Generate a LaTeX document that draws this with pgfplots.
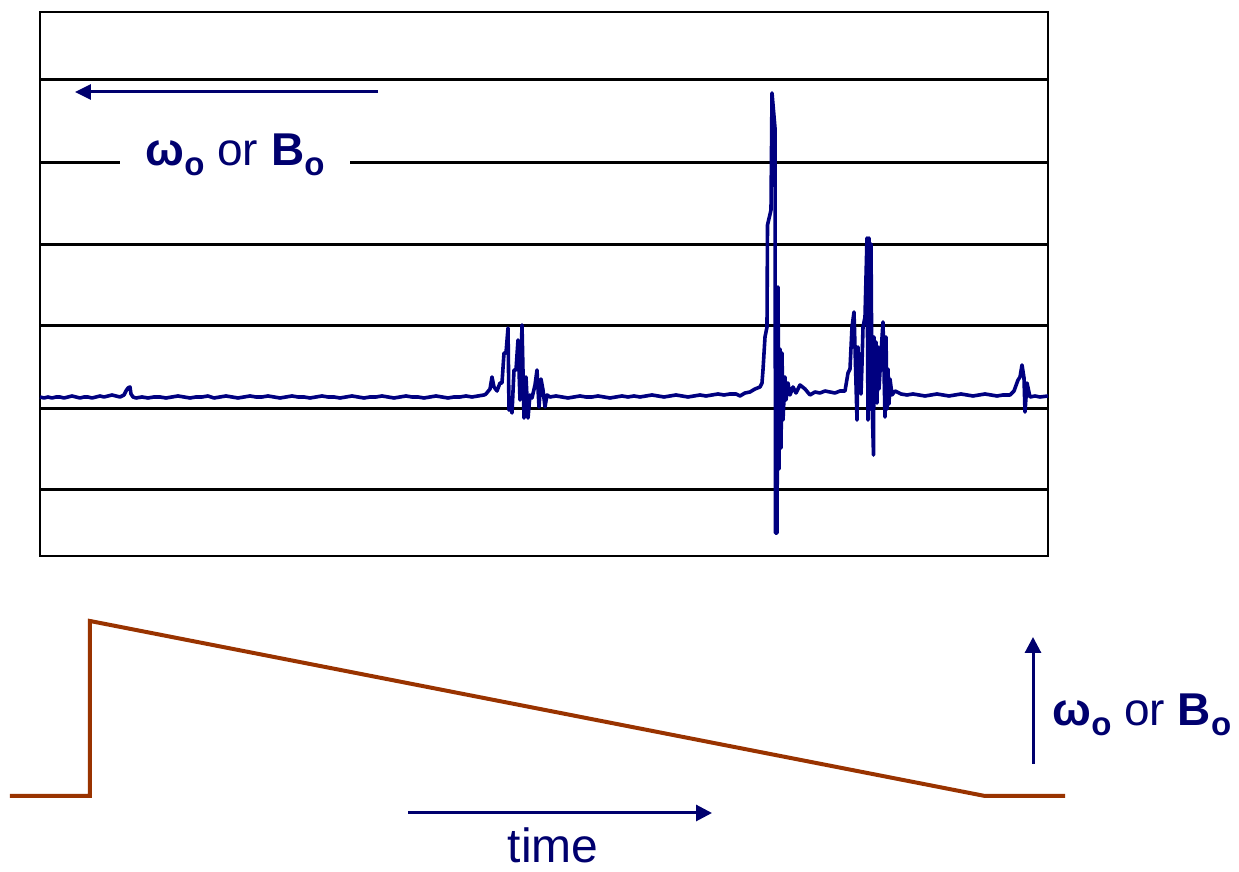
\documentclass[border=0pt]{standalone}
\usepackage{pgfplots}
\pgfplotsset{compat=1.18}
\usepackage{fontspec}
\setmainfont{Liberation Sans}
\usetikzlibrary{arrows.meta}
\definecolor{sig}{RGB}{0,0,128}
\definecolor{navytext}{RGB}{0,0,110}
\definecolor{ramp}{HTML}{993300}
\newcommand{\lbl}{{\bfseries ω}\raisebox{-5pt}{\fontsize{16.5}{18}\selectfont\bfseries o} or {\bfseries B}\raisebox{-5pt}{\fontsize{16.5}{18}\selectfont\bfseries o}}
\begin{document}
\begin{tikzpicture}
\useasboundingbox (0,0) rectangle (619.5pt,436pt);
% ---------- top panel ----------
\begin{axis}[
  at={(20pt,158pt)}, anchor=south west,
  scale only axis, width=504pt, height=272pt,
  xmin=0, xmax=1008, ymin=-147, ymax=397,
  xtick=\empty, ytick={-81,0,83,164,246,329}, yticklabels={},
  major tick length=0pt,
  ymajorgrids, grid style={black, line width=1.5pt},
  axis line style={line width=1pt},
  clip=false,
]
\addplot[sig, line width=1.8pt, line join=round, mark=none] coordinates {
(0,12)(4,11)(8,12)(12,11)(16,12)(20,12)(24,11)(28,12)(32,13)(36,12)(40,11)(44,12)(48,12)(52,11)(56,12)(60,13)(64,12)(68,13)(72,14)(76,13)(80,12)(84,14)(86,18)(88,21)(90,22)(91,15)(93,12)(96,11)
(102,12)(108,11)(114,12)(120,12)(126,11)(132,12)(138,13)(144,12)(150,11)(156,12)(162,12)(168,13)(174,11)(180,12)(186,13)(192,12)(198,11)(204,12)(210,13)(216,12)(222,12)(228,13)(234,12)(240,11)(246,12)(252,13)(258,12)(264,12)(270,11)(276,12)(282,13)(288,12)(294,12)(300,11)(306,12)(312,13)(318,12)(324,11)(330,12)(336,12)(342,13)(348,12)(354,11)(360,12)(366,13)(372,12)(378,12)(384,11)(390,12)(396,13)(402,12)(408,11)(414,12)(420,12)(426,13)(432,12)(438,13)(444,14)(446,15)
(450,20)(452,32)(454,22)(457,18)(460,26)(462,26)(464,56)(466,56)(468,81)(469,-1)(471,0)(472,-4)(474,39)(476,39)(478,69)(480,9)(482,84)(484,-9)(486,32)(488,-9)(490,14)(492,11)(495,24)(497,39)(499,2)(501,30)(503,19)(505,2)(507,14)
(510,12)(516,13)(522,12)(528,11)(534,12)(540,13)(546,12)(552,12)(558,13)(564,12)(570,11)(576,12)(582,13)(588,12)(594,13)(600,12)(606,13)(612,14)(618,13)(624,12)(630,13)(636,14)(642,13)(648,12)(654,13)(660,14)(666,13)(672,14)(678,15)(684,14)(690,15)(696,15)
(700,13)(705,16)(710,17)(715,20)(720,22)(722,26)(723,39)(725,72)(727,82)(727.5,184)(731,199)(732,316)(735,281)(735.5,-124)(737,-124)(738,122)(739,-60)(740,60)(741,-39)(742,56)(743,-11)(745,32)(746,9)(748,26)(750,14)(753,22)(756,16)(760,24)(765,20)(770,14)
(775,17)(780,16)(785,18)(790,17)(795,16)(800,18)
(805,18)(808,36)(810,40)(812,82)(814,97)(815,62)(817,-11)(818,62)(819,22)(820,55)(821,15)(822,45)(823,82)(825,92)(827,171)(828,-11)(829,171)(830,0)(831,165)(832,10)(833.5,-46)(834,72)(835,10)(836,67)(837,6)(838,62)(839,20)(841,55)(843,87)(845,-8)(846,72)(847,0)(848,40)(849,5)(850,30)(852,14)(855,18)
(861,15)(867,14)(873,15)(879,14)(885,13)(891,14)(897,15)(903,14)(909,13)(915,14)(921,15)(927,14)(933,13)(939,14)(945,15)(951,14)(957,13)(963,14)(970,14)
(974,18)(978,29)(980,32)(982,44)(984,31)(985,-3)(987,26)(990,12)(995,13)(1000,12)(1008,13)
};
\draw[navytext, line width=1.5pt, -{Triangle[length=8pt,width=7.5pt]}] (axis cs:338,317) -- (axis cs:35,317);
\node[anchor=base, fill=white, inner xsep=0pt, inner ysep=3pt, minimum width=114.5pt, text=navytext, font=\fontsize{23}{28}\selectfont] at (axis cs:195,243) {\lbl\hspace{7pt}};
\end{axis}
% ---------- bottom panel ----------
\begin{axis}[
  at={(5pt,38pt)}, anchor=south west,
  scale only axis, width=527.5pt, height=87.5pt,
  xmin=0, xmax=1055, ymin=0, ymax=175,
  axis lines=none, clip=false,
]
\addplot[ramp, line width=2pt, mark=none] coordinates {(0,0)(80,0)(80,175)(975,0)(1055,0)};
\draw[navytext, line width=1.5pt, -{Triangle[length=8pt,width=8pt]}] (axis cs:1023,32) -- (axis cs:1023,159);
\node[anchor=base west, inner sep=0pt, text=navytext, font=\fontsize{23}{28}\selectfont] at (axis cs:1042,70) {\lbl};
\draw[navytext, line width=1.5pt, -{Triangle[length=8pt,width=8pt]}] (axis cs:398,-17) -- (axis cs:702,-17);
\node[anchor=base, inner sep=0pt, text=navytext, font=\fontsize{24}{28}\selectfont] at (axis cs:543,-67) {time};
\end{axis}
\end{tikzpicture}
\end{document}
